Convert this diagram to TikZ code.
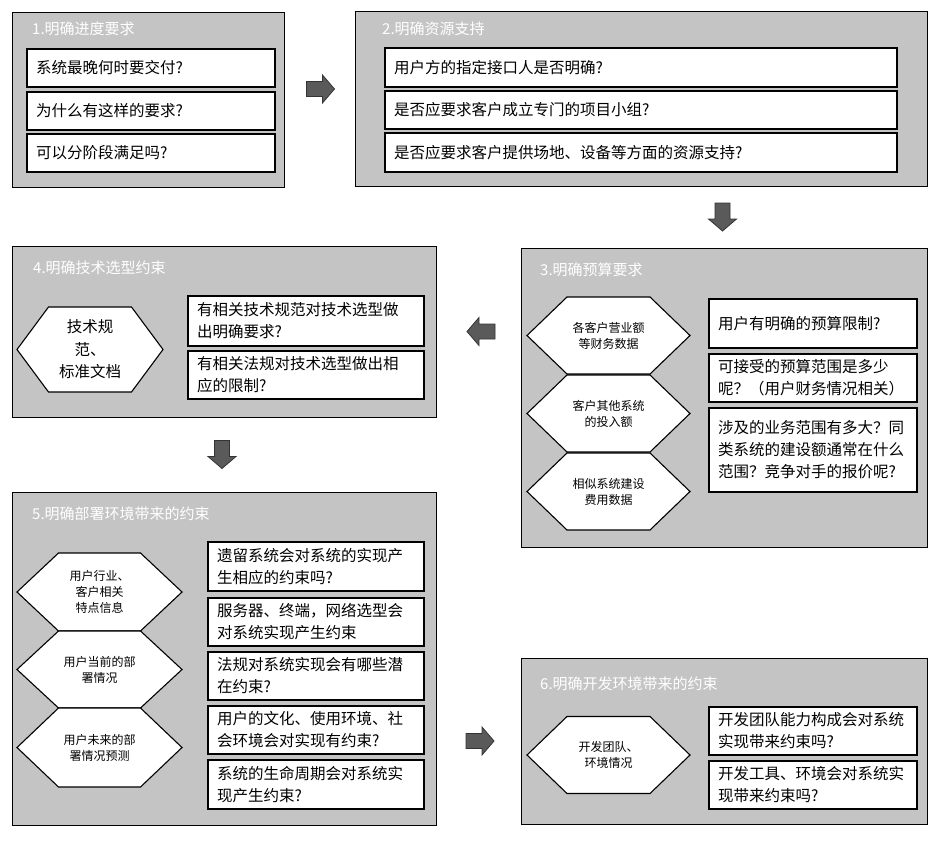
\documentclass[tikz,border=0pt]{standalone}
\usepackage{fontspec}
\setmainfont{Noto Sans CJK SC}
\definecolor{panelgray}{HTML}{C4C4C4}
\definecolor{arrowgray}{HTML}{5A5A5A}
\begin{document}
\begin{tikzpicture}[x=1pt,y=-1pt,
  panel/.style={draw=black, line width=1pt, fill=panelgray, anchor=north west, inner sep=0pt},
  ptitle/.style={anchor=west, text=white, font=\fontsize{15}{18}\selectfont, inner sep=0pt},
  qbox/.style={draw=black, line width=1.2pt, fill=white, align=left, inner xsep=9pt, inner ysep=0pt,
    font=\fontsize{15.5}{22}\selectfont},
  hexline/.style={draw=black, line width=1.1pt, fill=white},
  hexsmall/.style={align=center, font=\fontsize{12}{16}\selectfont, inner sep=0pt},
  hexlarge/.style={align=center, font=\fontsize{15.5}{22.5}\selectfont, inner sep=0pt},
  pics/hexcell/.style n args={3}{code={
    \path[hexline] (-#1,0) -- (-#2,-#3) -- (#2,-#3) -- (#1,0) -- (#2,#3) -- (-#2,#3) -- cycle;}},
  pics/blockarrow/.style={code={
    \path[draw=black!80, line width=0.8pt, fill=arrowgray]
      (-14,-7.5) -- (2,-7.5) -- (2,-14) -- (14,0) -- (2,14) -- (2,7.5) -- (-14,7.5) -- cycle;}},
]
\fill[white] (0,0) rectangle (939,843);
\useasboundingbox (0,0) rectangle (939,843);

% ---------- 1 ----------
\node[panel, minimum width=272, minimum height=175] (p1) at (12,12) {};
\node[ptitle] (t1) at (32,29) {1.明确进度要求};
\node[qbox, text width=230pt, minimum height=38] (b11) at (151,68) {系统最晚何时要交付?};
\node[qbox, text width=230pt, minimum height=38] (b12) at (151,111) {为什么有这样的要求?};
\node[qbox, text width=230pt, minimum height=38] (b13) at (151,153) {可以分阶段满足吗?};

% ---------- 2 ----------
\node[panel, minimum width=572, minimum height=175] (p2) at (355,11) {};
\node[ptitle] (t2) at (382,29) {2.明确资源支持};
\node[qbox, text width=494pt, minimum height=39] (b21) at (641,67.5) {用户方的指定接口人是否明确?};
\node[qbox, text width=494pt, minimum height=38] (b22) at (641,110) {是否应要求客户成立专门的项目小组?};
\node[qbox, text width=494pt, minimum height=39] (b23) at (641,152.5) {是否应要求客户提供场地、设备等方面的资源支持?};

% ---------- 3 ----------
\node[panel, minimum width=406, minimum height=299] (p3) at (521,248) {};
\node[ptitle] (t3) at (540,270) {3.明确预算要求};
\pic at (608.5,335.5) {hexcell={81.5}{41.5}{38.5}};
\pic at (608.5,413.5) {hexcell={81.5}{41.5}{38.5}};
\pic at (608.5,491.5) {hexcell={81.5}{41.5}{38.5}};
\node[hexsmall] (h31) at (608.5,335.5) {各客户营业额\\等财务数据};
\node[hexsmall] (h32) at (608.5,413.5) {客户其他系统\\的投入额};
\node[hexsmall] (h33) at (608.5,491.5) {相似系统建设\\费用数据};
\node[qbox, text width=190pt, minimum height=49] (b31) at (813,323.5) {用户有明确的预算限制?};
\node[qbox, text width=190pt, minimum height=48] (b32) at (813,378) {可接受的预算范围是多少\\呢？（用户财务情况相关）};
\node[qbox, text width=190pt, minimum height=84] (b33) at (813,450) {涉及的业务范围有多大？同\\类系统的建设额通常在什么\\范围？竞争对手的报价呢?};

% ---------- 4 ----------
\node[panel, minimum width=424, minimum height=171] (p4) at (12,246) {};
\node[ptitle] (t4) at (33,268) {4.明确技术选型约束};
\pic at (90,349.5) {hexcell={73}{41.5}{42.5}};
\node[hexlarge] (h41) at (90,349.5) {技术规\\范、\\标准文档};
\node[qbox, text width=218pt, minimum height=50] (b41) at (306,321) {有相关技术规范对技术选型做\\出明确要求?};
\node[qbox, text width=218pt, minimum height=48] (b42) at (306,375) {有相关法规对技术选型做出相\\应的限制?};

% ---------- 5 ----------
\node[panel, minimum width=424, minimum height=333] (p5) at (12,492) {};
\node[ptitle] (t5) at (32,514) {5.明确部署环境带来的约束};
\pic at (99.5,592) {hexcell={82.5}{41}{39}};
\pic at (99.5,669.5) {hexcell={82.5}{41}{38.5}};
\pic at (99.5,747.5) {hexcell={82.5}{41}{39.5}};
\node[hexsmall] (h51) at (99.5,592) {用户行业、\\客户相关\\特点信息};
\node[hexsmall] (h52) at (99.5,669.5) {用户当前的部\\署情况};
\node[hexsmall] (h53) at (99.5,747.5) {用户未来的部\\署情况预测};
\node[qbox, text width=198pt, minimum height=49] (b51) at (316,566.5) {遗留系统会对系统的实现产\\生相应的约束吗?};
\node[qbox, text width=198pt, minimum height=48] (b52) at (316,622) {服务器、终端，网络选型会\\对系统实现产生约束};
\node[qbox, text width=198pt, minimum height=48] (b53) at (316,676) {法规对系统实现会有哪些潜\\在约束?};
\node[qbox, text width=198pt, minimum height=48] (b54) at (316,730) {用户的文化、使用环境、社\\会环境会对实现有约束?};
\node[qbox, text width=198pt, minimum height=49] (b55) at (316,784.5) {系统的生命周期会对系统实\\现产生约束?};

% ---------- 6 ----------
\node[panel, minimum width=406, minimum height=166] (p6) at (521,658) {};
\node[ptitle] (t6) at (540,684) {6.明确开发环境带来的约束};
\pic at (608.5,755) {hexcell={81.5}{41.5}{38.5}};
\node[hexsmall] (h61) at (608.5,755) {开发团队、\\环境情况};
\node[qbox, text width=190pt, minimum height=48] (b61) at (813,731) {开发团队能力构成会对系统\\实现带来约束吗?};
\node[qbox, text width=190pt, minimum height=48] (b62) at (813,785) {开发工具、环境会对系统实\\现带来约束吗?};

% ---------- flow arrows between panels ----------
\pic at (320.5,89) {blockarrow};
\pic[rotate=-90] at (722.5,217) {blockarrow};
\pic[rotate=180] at (481,331.5) {blockarrow};
\pic[rotate=-90] at (222,454.5) {blockarrow};
\pic at (480,741) {blockarrow};
\end{tikzpicture}
\end{document}
